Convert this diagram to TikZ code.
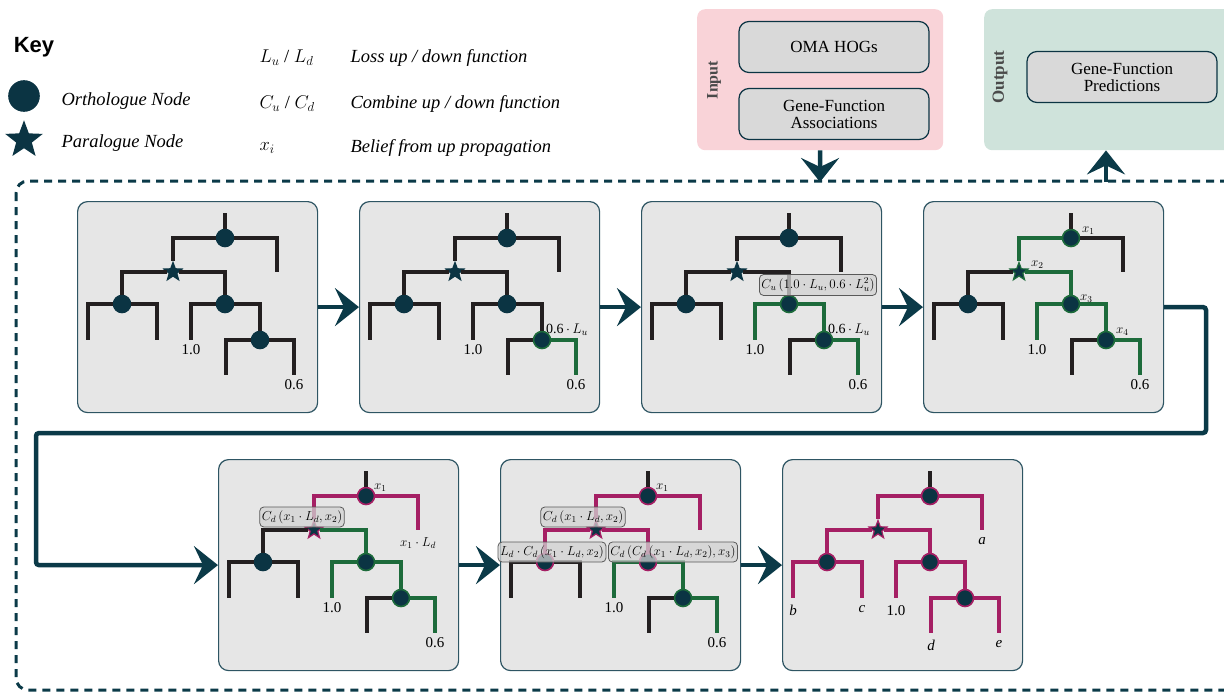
\RequirePackage{fix-cm}
\documentclass[tikz,border=0pt]{standalone}
\usepackage{fontspec}
\setmainfont{Liberation Serif}
\newfontfamily\keyfont{Liberation Sans}
\usetikzlibrary{arrows.meta,shapes.geometric}

\definecolor{nodeteal}{HTML}{0B3443}
\definecolor{flowteal}{HTML}{0B3A48}
\definecolor{treeblack}{HTML}{231F20}
\definecolor{treegreen}{HTML}{1D6B3B}
\definecolor{treemag}{HTML}{A51F64}
\definecolor{panelfill}{HTML}{E6E6E6}
\definecolor{panelline}{HTML}{2E5563}
\definecolor{inpink}{HTML}{F9D3D8}
\definecolor{outgreen}{HTML}{CFE3DB}
\definecolor{boxgray}{HTML}{D9D9D9}
\definecolor{labelgray}{HTML}{4A4A4A}

\tikzset{
  panel/.style={draw=panelline, fill=panelfill, rounded corners=10pt,
    line width=1.2pt, minimum width=240pt, minimum height=211pt,
    inner sep=0pt, anchor=north west},
  ortho/.style={circle, fill=nodeteal, draw=nodeteal, line width=1.6pt,
    minimum size=17pt, inner sep=0pt},
  para/.style={star, star points=5, star point ratio=2.4, fill=nodeteal,
    draw=nodeteal, line width=1.2pt, minimum size=19pt, inner sep=0pt},
  branch/.style={line width=3.2pt, draw=treeblack},
  upward/.style={draw=treegreen},
  downward/.style={draw=treemag},
  flow/.style={line width=4.5pt, draw=flowteal,
    -{Stealth[length=24pt, width=38pt, inset=9pt]}},
  loopline/.style={draw=flowteal, line width=3pt, dash pattern=on 8pt off 6pt,
    rounded corners=12pt},
  srcbox/.style={draw=nodeteal, fill=boxgray, rounded corners=10pt,
    line width=1.2pt, minimum width=190pt, minimum height=51pt,
    align=center, font=\fontsize{17}{17}\selectfont},
  sidelab/.style={rotate=90, text=labelgray,
    font=\fontsize{16}{16}\selectfont\bfseries},
  keytext/.style={anchor=west, font=\fontsize{18.5}{20}\selectfont\itshape},
  leaflab/.style={anchor=north, inner sep=1pt, font=\fontsize{15}{15}\selectfont},
  belief/.style={anchor=west, inner sep=1pt, font=\fontsize{13}{13}\selectfont},
  calcbox/.style={draw=gray!70!black, fill=gray!35, fill opacity=0.75,
    text opacity=1, rounded corners=4pt, inner xsep=2pt, inner ysep=3.5pt,
    line width=0.8pt, font=\fontsize{13}{13}\selectfont},
  % per-branch and per-node looks, changed panel by panel
  brA/.style={}, brStar/.style={}, brLeft/.style={}, brRight/.style={},
  brB/.style={}, brC/.style={}, brOne/.style={}, brLow/.style={},
  brD/.style={}, brE/.style={},
  rgRoot/.style={}, rgStar/.style={}, rgLeft/.style={}, rgRight/.style={},
  rgLow/.style={}
}

% one gene tree, placed inside a shifted scope
\newcommand{\genetree}[1]{%
  \coordinate (#1-top) at (148,12);
  \coordinate (#1-a) at (200,71);
  \coordinate (#1-b) at (11,139);
  \coordinate (#1-c) at (80,139);
  \coordinate (#1-one) at (114,139);
  \coordinate (#1-d) at (149,174);
  \coordinate (#1-e) at (217,174);
  \node[ortho, rgRoot] (#1-root) at (148,37) {};
  \node[para, rgStar] (#1-star) at (96,71) {};
  \node[ortho, rgLeft] (#1-left) at (45,103) {};
  \node[ortho, rgRight] (#1-right) at (148,103) {};
  \node[ortho, rgLow] (#1-low) at (183,139) {};
  \draw[branch] (#1-top) -- (#1-root);
  \draw[branch, brA] (#1-root) -| (#1-a);
  \draw[branch, brStar] (#1-root) -| (#1-star);
  \draw[branch, brLeft] (#1-star) -| (#1-left);
  \draw[branch, brRight] (#1-star) -| (#1-right);
  \draw[branch, brB] (#1-left) -| (#1-b);
  \draw[branch, brC] (#1-left) -| (#1-c);
  \draw[branch, brOne] (#1-right) -| (#1-one);
  \draw[branch, brLow] (#1-right) -| (#1-low);
  \draw[branch, brD] (#1-low) -| (#1-d);
  \draw[branch, brE] (#1-low) -| (#1-e);
}

\begin{document}
\begin{tikzpicture}[x=1pt, y=-1pt]
  \useasboundingbox (0,0) rectangle (1224,693);
  \clip (0,0) rectangle (1224,693);

  % key
  \node[font={\keyfont\bfseries\fontsize{22}{22}\selectfont}] (keytitle) at (34,47) {Key};
  \node[ortho, minimum size=30pt] (keyortho) at (24,96) {};
  \node[para, minimum size=36pt] (keypara) at (24,140) {};
  \node[keytext] (orthotext) at (58,101) {Orthologue Node};
  \node[keytext] (paratext) at (58,143) {Paralogue Node};
  \node[keytext, font=\fontsize{18.5}{20}\selectfont] (losssym) at (256,58) {$L_u$ / $L_d$};
  \node[keytext] (losstext) at (347,58) {Loss up / down function};
  \node[keytext, font=\fontsize{18.5}{20}\selectfont] (combsym) at (256,104) {$C_u$ / $C_d$};
  \node[keytext] (combtext) at (347,104) {Combine up / down function};
  \node[keytext, font=\fontsize{18.5}{20}\selectfont] (belsym) at (256,148) {$x_i$};
  \node[keytext] (beltext) at (347,148) {Belief from up propagation};

  % input and output
  \node[fill=inpink, rounded corners=8pt, minimum width=246pt, minimum height=141pt,
    anchor=north west] (input) at (697,9) {};
  \node[srcbox] (hogs) at (834,47) {OMA HOGs};
  \node[srcbox] (assoc) at (834,114) {Gene-Function\\Associations};
  \node[sidelab] (inlabel) at (714,80) {Input};
  \node[fill=outgreen, rounded corners=8pt, minimum width=260pt, minimum height=141pt,
    anchor=north west] (output) at (984,9) {};
  \node[srcbox] (predict) at (1122,77) {Gene-Function\\Predictions};
  \node[sidelab, font=\fontsize{17}{17}\selectfont\bfseries] (outlabel) at (1000,77) {Output};

  % propagation loop
  \draw[loopline] (16,181) rectangle (1240,690);
  \coordinate (injoin) at (820,182);
  \coordinate (outjoin) at (1106,182);
  \draw[flow] (input) -- (injoin);
  \draw[flow] (outjoin) -- (outjoin |- output.south);

  % panels
  \node[panel] (p1) at (77,201) {};
  \node[panel] (p2) at (359,201) {};
  \node[panel] (p3) at (641,201) {};
  \node[panel] (p4) at (923,201) {};
  \node[panel] (p5) at (218,459) {};
  \node[panel] (p6) at (500,459) {};
  \node[panel] (p7) at (782,459) {};
  \draw[flow] (p1) -- (p2);
  \draw[flow] (p2) -- (p3);
  \draw[flow] (p3) -- (p4);
  \coordinate (turnR) at (1206,433);
  \coordinate (turnL) at (36,433);
  \draw[flow, rounded corners=3pt] (p4.east) -| (turnR) -- (turnL) |- (p5.west);
  \draw[flow] (p5) -- (p6);
  \draw[flow] (p6) -- (p7);

  % 1: leaf values
  \begin{scope}[shift={(p1.north west)}]
    \genetree{t1}
    \node[leaflab] (t1-lone) at ([yshift=-3pt]t1-one) {1.0};
    \node[leaflab] (t1-le) at ([yshift=-3pt]t1-e) {0.6};
  \end{scope}

  % 2: loss up from a leaf
  \begin{scope}[shift={(p2.north west)}, brE/.style={upward}, rgLow/.style={upward}]
    \genetree{t2}
    \node[leaflab] (t2-lone) at ([yshift=-3pt]t2-one) {1.0};
    \node[leaflab] (t2-le) at ([yshift=-3pt]t2-e) {0.6};
    \node[belief, font=\fontsize{14}{14}\selectfont] (t2-loss) at (186,129) {0.6\,$\cdot\,L_u$};
  \end{scope}

  % 3: combine up
  \begin{scope}[shift={(p3.north west)}, brE/.style={upward}, brOne/.style={upward},
      brLow/.style={upward}, rgLow/.style={upward}, rgRight/.style={upward}]
    \genetree{t3}
    \node[leaflab] (t3-lone) at ([yshift=-3pt]t3-one) {1.0};
    \node[leaflab] (t3-le) at ([yshift=-3pt]t3-e) {0.6};
    \node[belief, font=\fontsize{14}{14}\selectfont] (t3-loss) at (186,129) {0.6\,$\cdot\,L_u$};
    \node[calcbox] (t3-comb) at (177,84) {$C_u\,(1.0\cdot L_u, 0.6\cdot L_u^{2})$};
  \end{scope}

  % 4: beliefs after up propagation
  \begin{scope}[shift={(p4.north west)}, brE/.style={upward}, brOne/.style={upward},
      brLow/.style={upward}, brRight/.style={upward}, brStar/.style={upward},
      rgRoot/.style={upward}, rgStar/.style={upward}, rgRight/.style={upward},
      rgLow/.style={upward}]
    \genetree{t4}
    \node[leaflab] (t4-lone) at ([yshift=-3pt]t4-one) {1.0};
    \node[leaflab] (t4-le) at ([yshift=-3pt]t4-e) {0.6};
    \node[belief] (t4-x1) at (158,30) {$x_1$};
    \node[belief] (t4-x2) at (107,64) {$x_2$};
    \node[belief] (t4-x3) at (156,98) {$x_3$};
    \node[belief] (t4-x4) at (192,131) {$x_4$};
  \end{scope}

  % 5: first step down
  \begin{scope}[shift={(p5.north west)}, brE/.style={upward}, brOne/.style={upward},
      brLow/.style={upward}, brRight/.style={upward}, brStar/.style={downward},
      brA/.style={downward}, rgRoot/.style={downward}, rgStar/.style={downward},
      rgRight/.style={upward}, rgLow/.style={upward}]
    \genetree{t5}
    \node[leaflab] (t5-lone) at ([yshift=-3pt]t5-one) {1.0};
    \node[leaflab] (t5-le) at ([yshift=-3pt]t5-e) {0.6};
    \node[belief] (t5-x1) at (155,29) {$x_1$};
    \node[leaflab, font=\fontsize{13}{13}\selectfont] (t5-la) at ([yshift=-6pt]t5-a) {$x_1\cdot L_d$};
    \node[calcbox] (t5-comb) at (84,58) {$C_d\,(x_1\cdot L_d, x_2)$};
  \end{scope}

  % 6: second step down
  \begin{scope}[shift={(p6.north west)}, brE/.style={upward}, brOne/.style={upward},
      brLow/.style={upward}, brRight/.style={downward}, brLeft/.style={downward},
      brStar/.style={downward}, brA/.style={downward}, rgRoot/.style={downward},
      rgStar/.style={downward}, rgLeft/.style={downward}, rgRight/.style={downward},
      rgLow/.style={upward}]
    \genetree{t6}
    \node[leaflab] (t6-lone) at ([yshift=-3pt]t6-one) {1.0};
    \node[leaflab] (t6-le) at ([yshift=-3pt]t6-e) {0.6};
    \node[belief] (t6-x1) at (155,29) {$x_1$};
    \node[calcbox] (t6-comb) at (83,58) {$C_d\,(x_1\cdot L_d, x_2)$};
    \node[calcbox] (t6-lossd) at (52,93) {$L_d\cdot C_d\,(x_1\cdot L_d, x_2)$};
    \node[calcbox] (t6-combd) at (173,93) {$C_d\,(C_d\,(x_1\cdot L_d, x_2), x_3)$};
  \end{scope}

  % 7: predictions on every leaf
  \begin{scope}[shift={(p7.north west)}, brA/.style={downward}, brStar/.style={downward},
      brLeft/.style={downward}, brRight/.style={downward}, brB/.style={downward},
      brC/.style={downward}, brOne/.style={downward}, brLow/.style={downward},
      brD/.style={downward}, brE/.style={downward}, rgRoot/.style={downward},
      rgStar/.style={downward}, rgLeft/.style={downward}, rgRight/.style={downward},
      rgLow/.style={downward}]
    \genetree{t7}
    \node[leaflab] (t7-la) at ([yshift=-6pt]t7-a) {\itshape a};
    \node[leaflab] (t7-lb) at ([yshift=-6pt]t7-b) {\itshape b};
    \node[leaflab] (t7-lc) at ([yshift=-6pt]t7-c) {\itshape c};
    \node[leaflab] (t7-lone) at ([yshift=-6pt]t7-one) {1.0};
    \node[leaflab] (t7-ld) at ([yshift=-6pt]t7-d) {\itshape d};
    \node[leaflab] (t7-le) at ([yshift=-6pt]t7-e) {\itshape e};
  \end{scope}
\end{tikzpicture}
\end{document}
